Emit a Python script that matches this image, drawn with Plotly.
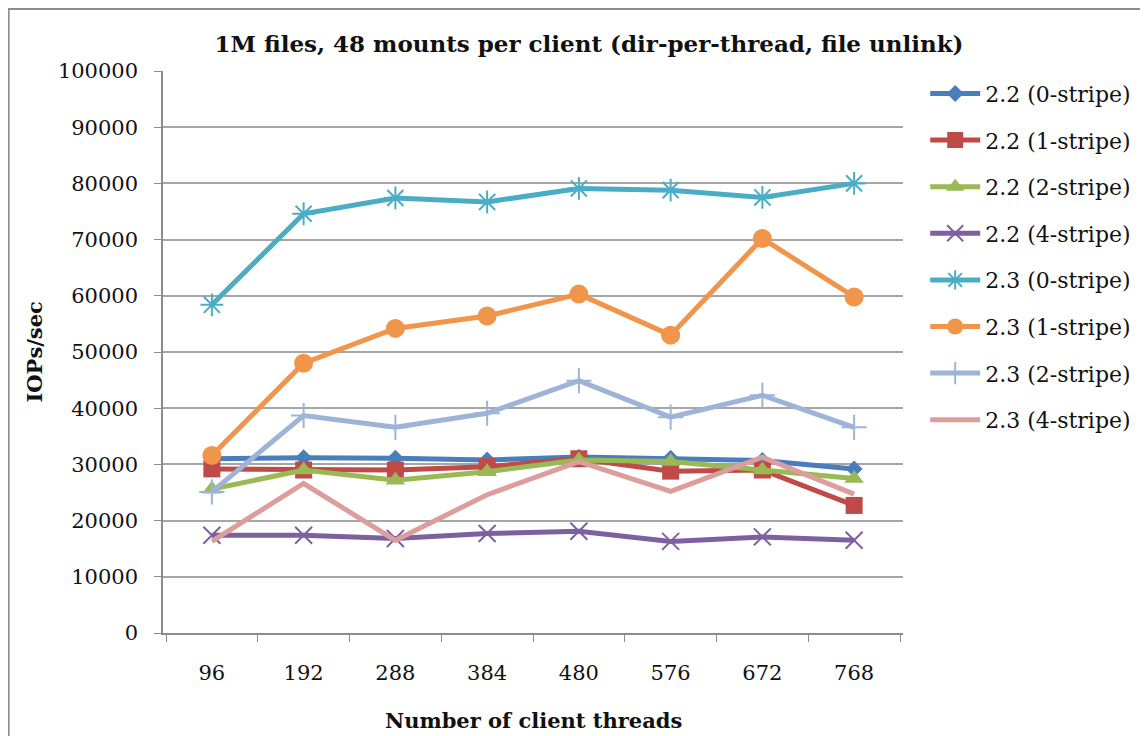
import plotly.graph_objects as go

threads = ["96", "192", "288", "384", "480", "576", "672", "768"]

v22_0 = [31000, 31200, 31100, 30800, 31300, 31100, 30700, 29200]
v22_1 = [29200, 29000, 29000, 29600, 31000, 28800, 29000, 22700]
v22_2 = [25600, 29000, 27200, 28700, 30800, 30500, 29000, 27500]
v22_4 = [17400, 17400, 16800, 17700, 18100, 16300, 17100, 16500]
v23_0 = [58400, 74600, 77400, 76700, 79100, 78800, 77500, 80000]
v23_1 = [31600, 48000, 54200, 56400, 60300, 53000, 70200, 59800]
v23_2 = [25100, 38700, 36600, 39100, 44900, 38400, 42300, 36600]
v23_4 = [16300, 26600, 16500, 24600, 30500, 25200, 31300, 24700]

y_ticks = list(range(0, 100001, 10000))

series = [
    ("2.2 (0-stripe)", v22_0, "#4A7EBB", "diamond", 13),
    ("2.2 (1-stripe)", v22_1, "#BE4B48", "square", 17),
    ("2.2 (2-stripe)", v22_2, "#98B954", "triangle-up", 17),
    ("2.2 (4-stripe)", v22_4, "#7D60A0", "x-thin", 17),
    ("2.3 (0-stripe)", v23_0, "#4BACC6", "asterisk", 19),
    ("2.3 (1-stripe)", v23_1, "#F0954A", "circle", 19),
    ("2.3 (2-stripe)", v23_2, "#9DB3D8", "cross-thin", 18),
    ("2.3 (4-stripe)", v23_4, "#DC9E9C", None, 0),
]

serif = "DejaVu Serif"
W, H = 1140, 728          # page has an 8px body margin
L, R, T, B = 155, 898, 63, 625   # plot area in figure pixels
PW, PH = R - L, B - T

fig = go.Figure()
for i, (name, vals, color, symbol, size) in enumerate(series):
    if symbol is None:
        marker = dict(size=1, opacity=0)
        mode = "lines"
    else:
        thin = symbol in ("x-thin", "asterisk", "cross-thin")
        marker = dict(symbol=symbol, size=size, color=color,
                      line=dict(color=color, width=2 if thin else 0))
        mode = "lines+markers"
    fig.add_trace(go.Scatter(
        x=threads, y=vals, name=name, mode=mode,
        line=dict(color=color, width=5),
        marker=marker, legendgroup=f"g{i}",
    ))

fig.update_layout(
    width=W, height=H,
    margin=dict(l=L, r=W - R, t=T, b=H - B),
    paper_bgcolor="white", plot_bgcolor="white",
    font=dict(family=serif, size=21, color="#111111"),
    title=dict(
        text="<b>1M files, 48 mounts per client (dir-per-thread, file unlink)</b>",
        x=581 / W, xref="container", xanchor="center",
        y=1 - 36 / H, yref="container", yanchor="middle",
        font=dict(family=serif, size=23, color="#111111"),
    ),
    legend=dict(
        x=1.03, xanchor="left", y=0.997, yanchor="top",
        font=dict(family=serif, size=22), tracegroupgap=15,
        itemwidth=50, bgcolor="rgba(0,0,0,0)",
    ),
    showlegend=True,
)

fig.update_xaxes(
    type="category", tickson="boundaries", ticks="outside", ticklen=7,
    tickcolor="#8C8C8C", showline=True, linecolor="#8C8C8C", linewidth=1.5,
    showgrid=False, ticklabelstandoff=20,
)
fig.update_yaxes(
    range=[0, 100000], tickvals=y_ticks, ticks="outside", ticklen=7,
    tickcolor="#8C8C8C", showline=True, linecolor="#8C8C8C", linewidth=1.5,
    showgrid=True, gridcolor="#A6A6A6", gridwidth=1.5, zeroline=False,
    tickformat="d", ticklabelstandoff=12,
)

fig.add_annotation(
    text="<b>IOPs/sec</b>", xref="paper", yref="paper",
    x=(25 - L) / PW, y=0.5, textangle=-90, showarrow=False,
    font=dict(family=serif, size=21), xanchor="center", yanchor="middle",
)
fig.add_annotation(
    text="<b>Number of client threads</b>", xref="paper", yref="paper",
    x=0.5, y=(B - 712) / PH, showarrow=False,
    font=dict(family=serif, size=21), xanchor="center", yanchor="middle",
)

# outer chart border
fig.add_shape(type="rect", xref="paper", yref="paper",
              x0=(0 - L) / PW, x1=(1150 - L) / PW,
              y0=(B - 760) / PH, y1=(B - 1) / PH,
              line=dict(color="#8C8C8C", width=2), layer="below")

fig.write_html("out.html")
